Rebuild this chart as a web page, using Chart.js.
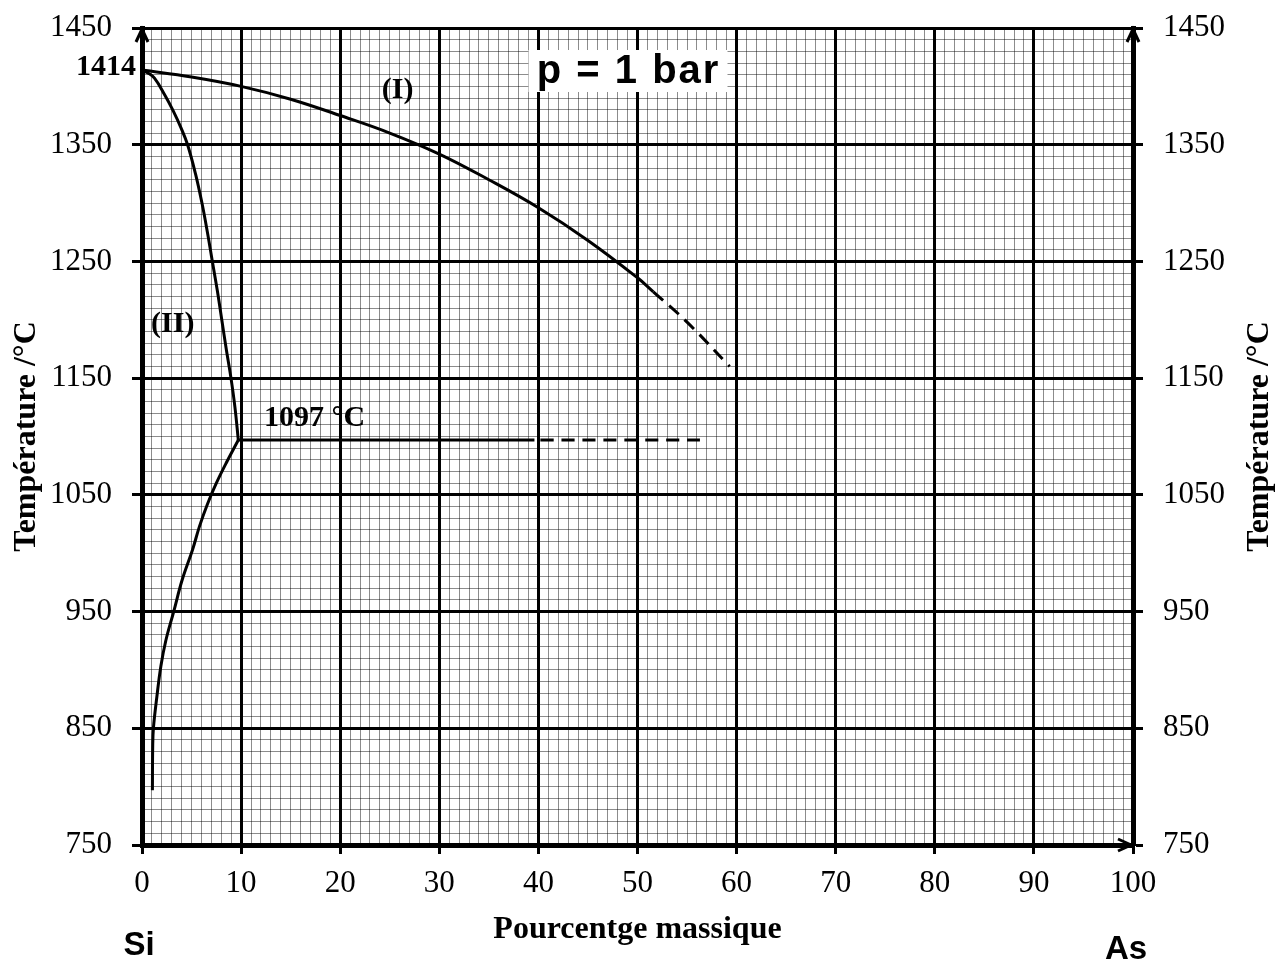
<!DOCTYPE html>
<html>
<head>
<meta charset="utf-8">
<script src="https://cdn.jsdelivr.net/npm/chart.js@4"></script>
<style>
  html, body { margin: 0; padding: 0; background: #fff; }
  #wrap { width: 1275px; height: 963px; }
</style>
</head>
<body>
<div id="wrap"><canvas id="diagram"></canvas></div>
<script>
// Si-As phase diagram
const liquidusX = [0, 5, 10, 15, 20, 25, 30, 35, 40, 45, 50, 51.6];
const liquidusT = [1414, 1408, 1400, 1389, 1375, 1360, 1342, 1320, 1296, 1268, 1236, 1224];
const liquidusDashX = [51.6, 55, 59.3];
const liquidusDashT = [1224, 1198, 1160];

const solidusX = [0, 0.6, 1.26, 2.27, 3.15, 3.96, 4.6, 5.4, 6.05, 6.6, 7.1, 7.6, 8.05, 8.5, 8.98, 9.38, 9.72];
const solidusT = [1414, 1411.5, 1407, 1393, 1379, 1364, 1350, 1325, 1300, 1275, 1250, 1225, 1200, 1175, 1150, 1125, 1097];

const solvusX = [9.72, 8.6, 7.5, 6.6, 5.8, 5.1, 4.05, 3.2, 2.4, 1.9, 1.5, 1.15, 1.08, 1.05];
const solvusT = [1097, 1079, 1060, 1042, 1023, 1003, 977, 950, 925, 903, 877, 850, 834, 797];

const eutecticT = 1097;
const eutecticSolidX = [9.72, 39.6];
const eutecticDashX = [40.2, 56.3];

const xTicks = [0, 10, 20, 30, 40, 50, 60, 70, 80, 90, 100];
const tTicks = [750, 850, 950, 1050, 1150, 1250, 1350, 1450];

const serif = '"Liberation Serif", "Times New Roman", serif';
const sans = '"Liberation Sans", Arial, sans-serif';

const pts = (xs, ys) => xs.map((v, i) => ({ x: v, y: ys[i] }));

const isMajorX = v => xTicks.includes(Math.round(v));
const isMajorT = v => tTicks.includes(Math.round(v));

function curve(data, dashed) {
    return {
        data: data,
        borderColor: '#000',
        borderWidth: 3,
        borderDash: dashed ? [13, 8] : [],
        pointRadius: 0,
        tension: 0.4,
        fill: false,
    };
}

// fixed side widths, no extra padding from the tick labels
function sideFit(s) {
    s.width = 142;
    s.paddingTop = 0;
    s.paddingBottom = 0;
}

// extra texts, arrows and the pressure box
const overlay = {
    id: 'overlay',
    afterDatasetsDraw(chart) {
        const { ctx, chartArea: a, scales: { x, y } } = chart;
        ctx.save();
        ctx.fillStyle = '#000';
        ctx.strokeStyle = '#000';

        // arrow heads on the axes
        ctx.lineWidth = 3;
        ctx.lineJoin = 'miter';
        const up = (px) => {
            ctx.beginPath();
            ctx.moveTo(px - 6, a.top + 14);
            ctx.lineTo(px, a.top + 1);
            ctx.lineTo(px + 6, a.top + 14);
            ctx.stroke();
        };
        up(a.left);
        up(a.right);
        ctx.beginPath();
        ctx.moveTo(a.right - 15, a.bottom - 6);
        ctx.lineTo(a.right - 2, a.bottom);
        ctx.lineTo(a.right - 15, a.bottom + 6);
        ctx.stroke();

        // p = 1 bar
        ctx.fillStyle = '#fff';
        ctx.fillRect(x.getPixelForValue(39.0), a.top + 22, 199, 42);
        ctx.fillStyle = '#000';
        ctx.font = 'bold 40px ' + sans;
        ctx.letterSpacing = '2px';
        ctx.textAlign = 'center';
        ctx.textBaseline = 'middle';
        ctx.fillText('p = 1 bar', x.getPixelForValue(49.1), a.top + 44);
        ctx.letterSpacing = '0px';

        ctx.font = 'bold 30px ' + serif;
        ctx.fillText('(I)', x.getPixelForValue(25.8), y.getPixelForValue(1397));
        ctx.fillText('(II)', x.getPixelForValue(3.1), y.getPixelForValue(1196));
        ctx.textAlign = 'left';
        ctx.fillText('1097 °C', x.getPixelForValue(12.3), y.getPixelForValue(1116));
        ctx.textAlign = 'right';
        ctx.fillText('1414', a.left - 6, y.getPixelForValue(1414) - 3);

        // element names under the axis
        ctx.font = 'bold 33px ' + sans;
        ctx.textAlign = 'center';
        ctx.fillText('Si', x.getPixelForValue(-0.3), 946);
        ctx.fillText('As', x.getPixelForValue(99.3), 950);

        // right axis title, same reading direction as the left one
        ctx.font = 'bold 32px ' + serif;
        ctx.translate(1260, (a.top + a.bottom) / 2);
        ctx.rotate(-Math.PI / 2);
        ctx.fillText('Température /°C', 0, 0);
        ctx.restore();
    },
};

new Chart(document.getElementById('diagram'), {
    type: 'line',
    data: {
        datasets: [
            curve(pts(liquidusX, liquidusT), false),
            curve(pts(liquidusDashX, liquidusDashT), true),
            curve(pts(solidusX, solidusT), false),
            curve(pts(solvusX, solvusT), false),
            curve(pts(eutecticSolidX, eutecticSolidX.map(() => eutecticT)), false),
            curve(pts(eutecticDashX, eutecticDashX.map(() => eutecticT)), true),
        ],
    },
    options: {
        responsive: true,
        maintainAspectRatio: false,
        animation: false,
        layout: { padding: { top: 28, left: 0, right: 0, bottom: 0 } },
        plugins: { legend: { display: false }, tooltip: { enabled: false } },
        scales: {
            x: {
                type: 'linear',
                min: 0,
                max: 100,
                afterFit: (s) => { s.height = 118; },
                ticks: {
                    stepSize: 1,
                    autoSkip: false,
                    maxRotation: 0,
                    padding: 11,
                    color: '#000',
                    font: { family: serif, size: 31 },
                    callback: (v) => (isMajorX(v) ? Math.round(v) : ''),
                },
                grid: {
                    color: (c) => (isMajorX(c.tick.value) ? '#000' : 'rgba(0,0,0,0.45)'),
                    lineWidth: (c) => (isMajorX(c.tick.value) ? 3 : 1),
                    tickColor: (c) => (isMajorX(c.tick.value) ? '#000' : 'rgba(0,0,0,0)'),
                    tickWidth: 3,
                    tickLength: 9,
                },
                border: { color: '#000', width: 5 },
                title: {
                    display: true,
                    text: 'Pourcentge massique',
                    color: '#000',
                    font: { family: serif, size: 32, weight: 'bold' },
                    padding: { top: 0, bottom: 14 },
                },
            },
            y: {
                type: 'linear',
                position: 'left',
                min: 750,
                max: 1450,
                afterFit: sideFit,
                ticks: {
                    stepSize: 10,
                    autoSkip: false,
                    padding: 20,
                    color: '#000',
                    font: { family: serif, size: 31 },
                    callback: (v) => (isMajorT(v) ? Math.round(v) : ''),
                },
                grid: {
                    color: (c) => (isMajorT(c.tick.value) ? '#000' : 'rgba(0,0,0,0.45)'),
                    lineWidth: (c) => (isMajorT(c.tick.value) ? 3 : 1),
                    tickColor: (c) => (isMajorT(c.tick.value) ? '#000' : 'rgba(0,0,0,0)'),
                    tickWidth: 3,
                    tickLength: 10,
                },
                border: { color: '#000', width: 5 },
                title: {
                    display: true,
                    text: 'Température /°C',
                    color: '#000',
                    font: { family: serif, size: 32, weight: 'bold' },
                    padding: { top: 8, bottom: 0 },
                },
            },
            y2: {
                type: 'linear',
                position: 'right',
                min: 750,
                max: 1450,
                afterFit: sideFit,
                ticks: {
                    stepSize: 100,
                    padding: 20,
                    color: '#000',
                    font: { family: serif, size: 31 },
                    callback: (v) => String(v),
                },
                grid: {
                    drawOnChartArea: false,
                    color: '#000',
                    tickWidth: 3,
                    tickLength: 10,
                },
                border: { color: '#000', width: 5 },
            },
        },
    },
    plugins: [overlay],
});
</script>
</body>
</html>
